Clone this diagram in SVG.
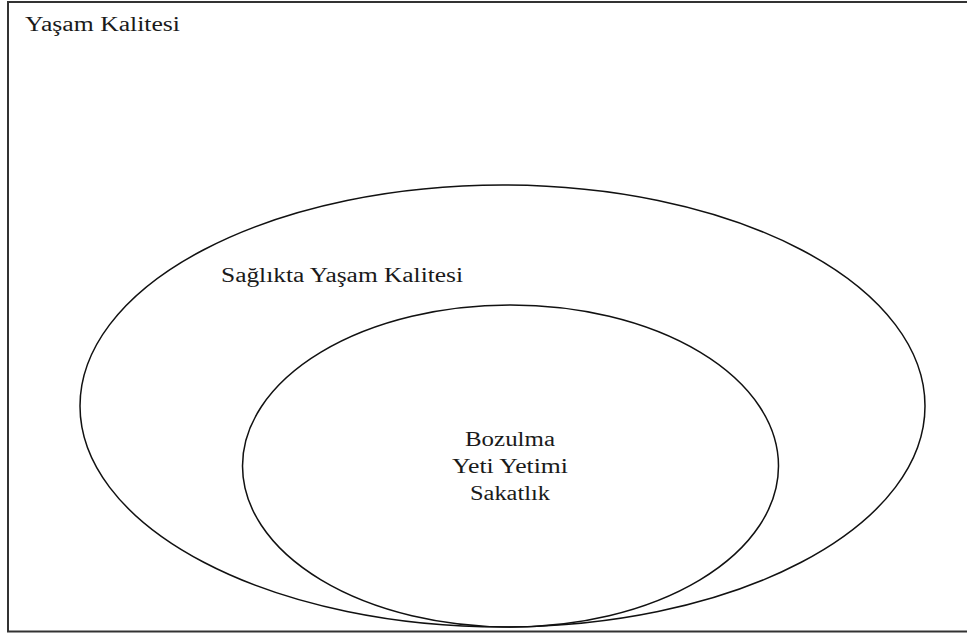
<svg xmlns="http://www.w3.org/2000/svg" width="967" height="637" viewBox="0 0 967 637">
<style>
.shape{fill:none;stroke:#111;stroke-width:1.5}
.frame{fill:none;stroke:#333;stroke-width:2}
text{font-family:"Liberation Serif","Times New Roman",serif;font-size:20px;fill:#1a1a1a}
</style>
<rect width="967" height="637" fill="#fff"/>
<g id="yasam-kalitesi">
<rect class="frame" x="8" y="2" width="962" height="629.5"/>
<text x="25" y="31" textLength="155" lengthAdjust="spacingAndGlyphs">Yaşam Kalitesi</text>
</g>
<g id="saglikta-yasam-kalitesi">
<ellipse class="shape" cx="502.5" cy="406" rx="422.5" ry="221"/>
<text x="221" y="282" textLength="242" lengthAdjust="spacingAndGlyphs">Sağlıkta Yaşam Kalitesi</text>
</g>
<g id="bozulma">
<ellipse class="shape" cx="510.5" cy="466" rx="268" ry="161"/>
<text x="510" y="446" text-anchor="middle" textLength="90" lengthAdjust="spacingAndGlyphs">Bozulma</text>
<text x="510" y="473" text-anchor="middle" textLength="116" lengthAdjust="spacingAndGlyphs">Yeti Yetimi</text>
<text x="510" y="500" text-anchor="middle" textLength="80" lengthAdjust="spacingAndGlyphs">Sakatlık</text>
</g>
<g id="connectors"/>
</svg>
